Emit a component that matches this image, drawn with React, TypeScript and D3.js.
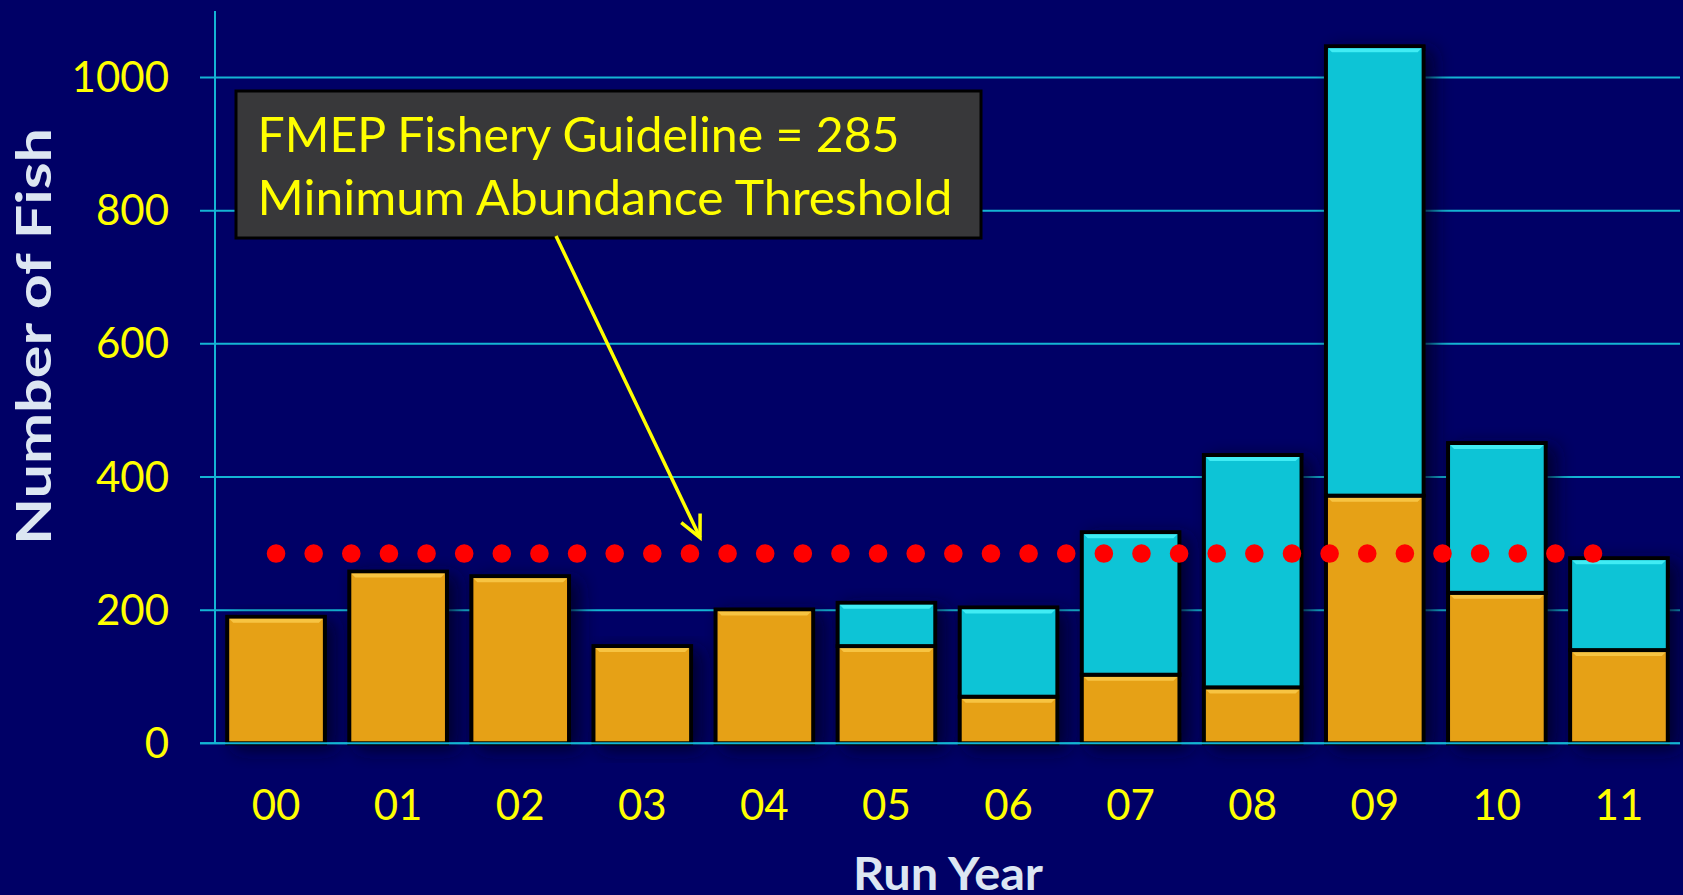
import React from "react";
import * as d3 from "d3";

const years = ["00", "01", "02", "03", "04", "05", "06", "07", "08", "09", "10", "11"];
const wildValues = [190, 258, 251, 146, 201, 146, 70, 103, 84, 372, 226, 140];
const hatcheryValues = [0, 0, 0, 0, 0, 65, 134, 214, 349, 675, 225, 138];
const yTicks = [0, 200, 400, 600, 800, 1000];
const guideline = 285;
const noteLines = ["FMEP Fishery Guideline = 285", "Minimum Abundance Threshold"];

const W = 1683;
const H = 895;
const BG = "#000066";
const GRID = "#14b4d4";
const ORANGE = "#e6a117";
const ORANGE_HI = "#f7c443";
const CYAN = "#0cc4d6";
const CYAN_HI = "#40ecf4";
const YELLOW = "#ffff00";
const TITLE = "#dce6f2";
const FONT = "Lato, 'Open Sans', sans-serif";

export default function App() {
  React.useEffect(() => {
    document.body.style.margin = "0";
  }, []);

  const left = 215;
  const right = 1680;
  const x = d3.scaleBand<string>().domain(years).range([left, right]).paddingInner(0.2).paddingOuter(0.1);
  const y = d3.scaleLinear().domain([0, 1100]).range([743.3, 11]);
  const bw = x.bandwidth();

  const stack = years.map((yr, i) => ({
    yr,
    segs: [
      { y0: 0, y1: wildValues[i], fill: ORANGE, hi: ORANGE_HI },
      { y0: wildValues[i], y1: wildValues[i] + hatcheryValues[i], fill: CYAN, hi: CYAN_HI },
    ].filter((s) => s.y1 > s.y0),
  }));

  const dotX0 = (x("00") as number) + bw / 2;
  const dotX1 = 1593;
  const gy = y(guideline);

  // annotation box & arrow
  const box = { x: 236, y: 91, w: 745, h: 147 };
  const arrowStart: [number, number] = [556, 236];
  const arrowEnd: [number, number] = [700, gy - 16];
  const ang = Math.atan2(arrowEnd[1] - arrowStart[1], arrowEnd[0] - arrowStart[0]);
  const headLen = 24;
  const spread = 0.45;
  const h1: [number, number] = [
    arrowEnd[0] - headLen * Math.cos(ang - spread),
    arrowEnd[1] - headLen * Math.sin(ang - spread),
  ];
  const h2: [number, number] = [
    arrowEnd[0] - headLen * Math.cos(ang + spread),
    arrowEnd[1] - headLen * Math.sin(ang + spread),
  ];

  return (
    <svg width={W} height={H} style={{ display: "block", position: "absolute", left: 0, top: 0 }}>
      <defs>
        <filter id="shadow" x="-20%" y="-10%" width="160%" height="130%">
          <feDropShadow dx="9" dy="5" stdDeviation="9" floodColor="#000020" floodOpacity="0.75" />
        </filter>
      </defs>
      <rect x={0} y={0} width={W} height={H} fill={BG} />

      {/* gridlines */}
      {yTicks.map((t) => (
        <line key={t} x1={200} x2={right} y1={y(t)} y2={y(t)} stroke={GRID} strokeWidth={2} />
      ))}
      <line x1={left} x2={left} y1={11} y2={y(0)} stroke={GRID} strokeWidth={2} />

      {/* bars */}
      {stack.map((b) => (
        <g key={b.yr} filter="url(#shadow)">
          {b.segs.map((s, j) => {
            const x0 = x(b.yr) as number;
            const top = y(s.y1);
            const bot = y(s.y0);
            return (
              <g key={j}>
                <rect x={x0} y={top} width={bw} height={bot - top} fill={s.fill} stroke="#000" strokeWidth={4} />
                <path
                  d={`M${x0 + 2},${top + 2} L${x0 + bw - 2},${top + 2} L${x0 + bw - 6},${top + 6} L${x0 + 6},${top + 6} Z`}
                  fill={s.hi}
                />
              </g>
            );
          })}
        </g>
      ))}
      <line x1={200} x2={right} y1={y(0)} y2={y(0)} stroke={GRID} strokeWidth={2} />

      {/* guideline dots */}
      <line
        x1={dotX0}
        x2={dotX1}
        y1={gy}
        y2={gy}
        stroke="#ff0000"
        strokeWidth={18.6}
        strokeLinecap="round"
        strokeDasharray={`0 ${(dotX1 - dotX0) / 35}`}
      />

      {/* y tick labels */}
      {yTicks.map((t) => (
        <text key={t} x={169} y={y(t) + 14.5} textAnchor="end" fill={YELLOW} fontFamily={FONT} fontSize={42}>
          {t}
        </text>
      ))}

      {/* x tick labels */}
      {years.map((yr) => (
        <text
          key={yr}
          x={(x(yr) as number) + bw / 2}
          y={820}
          textAnchor="middle"
          fill={YELLOW}
          fontFamily={FONT}
          fontSize={42}
        >
          {yr}
        </text>
      ))}

      {/* axis titles */}
      <text x={948} y={890} textAnchor="middle" fill={TITLE} fontFamily={FONT} fontWeight={700} fontSize={46} textLength={190} lengthAdjust="spacingAndGlyphs">
        Run Year
      </text>
      <text
        transform={`translate(51,336.5) rotate(-90)`}
        textAnchor="middle"
        fill={TITLE}
        fontFamily={FONT}
        fontWeight={700}
        fontSize={48}
        textLength={417}
        lengthAdjust="spacingAndGlyphs"
      >
        Number of Fish
      </text>

      {/* annotation */}
      <rect x={box.x} y={box.y} width={box.w} height={box.h} fill="#38383a" stroke="#000" strokeWidth={3} />
      <text x={257.5} y={151.7} fill={YELLOW} fontFamily={FONT} fontSize={48} textLength={642} lengthAdjust="spacingAndGlyphs">
        {noteLines[0]}
      </text>
      <text x={257.5} y={215} fill={YELLOW} fontFamily={FONT} fontSize={48} textLength={695} lengthAdjust="spacingAndGlyphs">
        {noteLines[1]}
      </text>
      <line x1={arrowStart[0]} y1={arrowStart[1]} x2={arrowEnd[0]} y2={arrowEnd[1]} stroke={YELLOW} strokeWidth={3.5} />
      <path
        d={`M${h1[0]},${h1[1]} L${arrowEnd[0]},${arrowEnd[1]} L${h2[0]},${h2[1]}`}
        fill="none"
        stroke={YELLOW}
        strokeWidth={3.5}
      />
    </svg>
  );
}
